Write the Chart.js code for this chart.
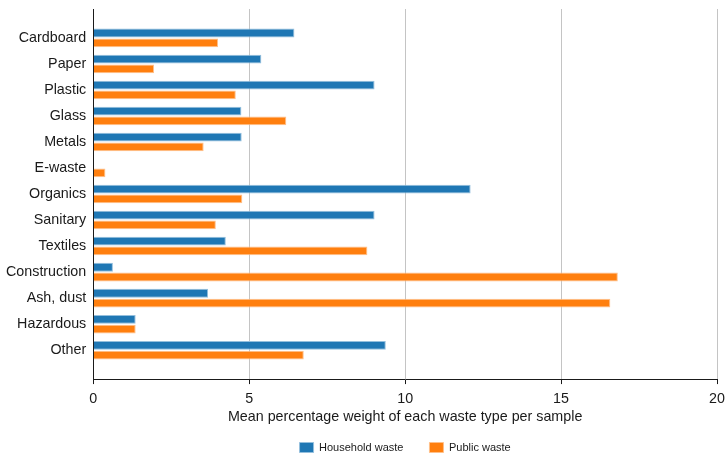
<!DOCTYPE html>
<html>
<head>
<meta charset="utf-8">
<script src="https://cdn.jsdelivr.net/npm/chart.js@4/dist/chart.umd.min.js"></script>
<style>
  html, body { margin: 0; padding: 0; background: #fff; }
  #wrap { width: 727px; height: 455px; }
</style>
</head>
<body>
<div id="wrap"><canvas id="c" width="727" height="455"></canvas></div>
<script>
const categories = ["Cardboard", "Paper", "Plastic", "Glass", "Metals", "E-waste", "Organics",
  "Sanitary", "Textiles", "Construction", "Ash, dust", "Hazardous", "Other"];
const household = [6.45, 5.39, 9.02, 4.75, 4.76, 0, 12.10, 9.02, 4.25, 0.63, 3.68, 1.36, 9.38];
const publicWaste = [4.00, 1.95, 4.57, 6.19, 3.54, 0.39, 4.78, 3.93, 8.79, 16.82, 16.58, 1.36, 6.75];
const xTicks = [0, 5, 10, 15, 20];
const seriesNames = ["Household waste", "Public waste"];
const xTitle = "Mean percentage weight of each waste type per sample";

const FONT = "'Liberation Sans', Arial, Helvetica, sans-serif";
const toPoints = arr => arr.map((v, i) => ({ x: v, y: i }));

new Chart(document.getElementById('c'), {
  type: 'bar',
  data: {
    datasets: [
      { label: seriesNames[0], data: toPoints(household), backgroundColor: '#1f77b4',
        borderColor: '#94bfdd', borderWidth: 1, borderSkipped: 'start' },
      { label: seriesNames[1], data: toPoints(publicWaste), backgroundColor: '#ff7f0e',
        borderColor: '#ffc08a', borderWidth: 1, borderSkipped: 'start' }
    ]
  },
  options: {
    indexAxis: 'y',
    responsive: false,
    animation: false,
    devicePixelRatio: 1,
    layout: { padding: { left: 6, right: 10, top: 9, bottom: 0 } },
    datasets: { bar: { categoryPercentage: 0.75, barPercentage: 0.9 } },
    scales: {
      y: {
        type: 'linear',
        reverse: true,
        offset: false,
        min: -1.11,
        max: categories.length - 1 + 1.11,
        afterBuildTicks: axis => { axis.ticks = categories.map((c, i) => ({ value: i })); },
        afterFit: s => { s.paddingTop = 0; s.paddingBottom = 0; },
        ticks: {
          autoSkip: false,
          padding: 0,
          color: '#1a1a1a',
          font: { family: FONT, size: 14.3 },
          callback: v => categories[v]
        },
        grid: { display: true, drawOnChartArea: false, drawTicks: true, tickLength: 7,
                tickColor: 'rgba(0,0,0,0)', offset: false },
        border: { display: true, color: '#1a1a1a', width: 1 }
      },
      x: {
        type: 'linear',
        min: 0,
        max: 20,
        afterBuildTicks: axis => { axis.ticks = xTicks.map(v => ({ value: v })); },
        afterFit: s => { s.paddingRight = 0; },
        ticks: {
          padding: 6,
          color: '#1a1a1a',
          font: { family: FONT, size: 14.3 }
        },
        grid: { color: '#c4c4c4', lineWidth: 1, tickColor: '#1a1a1a', tickLength: 5 },
        border: { display: true, color: '#1a1a1a', width: 1 },
        title: {
          display: true,
          text: xTitle,
          color: '#1a1a1a',
          font: { family: FONT, size: 14.3 },
          padding: { top: -5, bottom: -9.4 }
        }
      }
    },
    plugins: {
      tooltip: { enabled: false },
      legend: {
        position: 'bottom',
        fullSize: false,
        maxHeight: 39,
        labels: {
          boxWidth: 14,
          boxHeight: 10,
          padding: 26,
          color: '#1a1a1a',
          font: { family: FONT, size: 11 }
        }
      }
    }
  }
});
</script>
</body>
</html>
